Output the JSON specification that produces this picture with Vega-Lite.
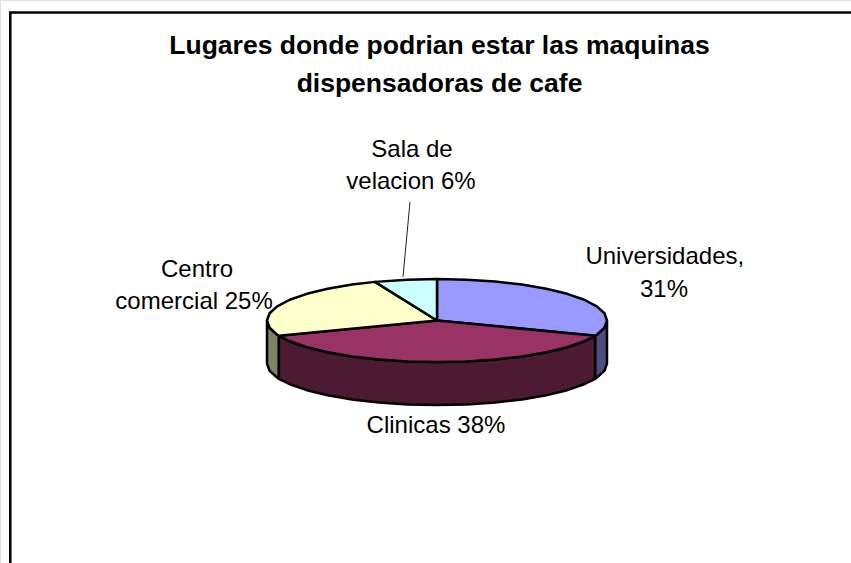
{"$schema":"https://vega.github.io/schema/vega-lite/v6.json","width":851,"height":563,"autosize":"none","padding":0,"background":"white",
"title":{"text":["Lugares donde podrian estar las maquinas","dispensadoras de cafe"],"font":"Liberation Sans","fontSize":26.5,"fontWeight":"bold","color":"black","anchor":"middle","offset":-97,"lineHeight":38,"dx":14},
"datasets":{
"frame":[{"i":0,"x":-251,"y":-584.3},{"i":1,"x":-251,"y":742},{"i":2,"x":243.5,"y":742}],
"leader":[{"i":0,"x":-15.9,"y":285.5},{"i":1,"x":-20,"y":105.1}],
"labels":[
{"slice":"Universidades","share":31,"text":"Universidades,","x":134,"y":155.4},
{"slice":"Universidades","share":31,"text":"31%","x":133.5,"y":75.9},
{"slice":"Clinicas","share":38,"text":"Clinicas 38%","x":-0.6,"y":-251.8},
{"slice":"Centro comercial","share":25,"text":"Centro","x":-141.2,"y":123},
{"slice":"Centro comercial","share":25,"text":"comercial 25%","x":-142.9,"y":47.7},
{"slice":"Sala de velacion","share":6,"text":"Sala de","x":-14.7,"y":413.3},
{"slice":"Sala de velacion","share":6,"text":"velacion 6%","x":-15.3,"y":336.1}],
"faces":[
{"part":"side Universidades","i":0,"x":100,"y":0},{"part":"side Universidades","i":1,"x":98.5,"y":-17.4},{"part":"side Universidades","i":2,"x":94,"y":-34.2},{"part":"side Universidades","i":3,"x":93,"y":-36.8},{"part":"side Universidades","i":4,"x":93,"y":-140.4},{"part":"side Universidades","i":5,"x":94,"y":-137.8},{"part":"side Universidades","i":6,"x":98.5,"y":-121},{"part":"side Universidades","i":7,"x":100,"y":-103.6},{"part":"side Universidades","i":8,"x":100,"y":0},
{"part":"side Centro","i":0,"x":-93,"y":-36.8},{"part":"side Centro","i":1,"x":-94,"y":-34.2},{"part":"side Centro","i":2,"x":-98.5,"y":-17.4},{"part":"side Centro","i":3,"x":-100,"y":0},{"part":"side Centro","i":4,"x":-100,"y":-103.6},{"part":"side Centro","i":5,"x":-98.5,"y":-121},{"part":"side Centro","i":6,"x":-94,"y":-137.8},{"part":"side Centro","i":7,"x":-93,"y":-140.4},{"part":"side Centro","i":8,"x":-93,"y":-36.8},
{"part":"side Clinicas","i":0,"x":93,"y":-36.8},{"part":"side Clinicas","i":1,"x":86.6,"y":-50},{"part":"side Clinicas","i":2,"x":76.6,"y":-64.3},{"part":"side Clinicas","i":3,"x":64.3,"y":-76.6},{"part":"side Clinicas","i":4,"x":50,"y":-86.6},{"part":"side Clinicas","i":5,"x":34.2,"y":-94},{"part":"side Clinicas","i":6,"x":17.4,"y":-98.5},{"part":"side Clinicas","i":7,"x":0,"y":-100},{"part":"side Clinicas","i":8,"x":-17.4,"y":-98.5},{"part":"side Clinicas","i":9,"x":-34.2,"y":-94},{"part":"side Clinicas","i":10,"x":-50,"y":-86.6},{"part":"side Clinicas","i":11,"x":-64.3,"y":-76.6},{"part":"side Clinicas","i":12,"x":-76.6,"y":-64.3},{"part":"side Clinicas","i":13,"x":-86.6,"y":-50},{"part":"side Clinicas","i":14,"x":-93,"y":-36.8},
{"part":"side Clinicas","i":15,"x":-93,"y":-140.4},{"part":"side Clinicas","i":16,"x":-86.6,"y":-153.6},{"part":"side Clinicas","i":17,"x":-76.6,"y":-167.9},{"part":"side Clinicas","i":18,"x":-64.3,"y":-180.2},{"part":"side Clinicas","i":19,"x":-50,"y":-190.2},{"part":"side Clinicas","i":20,"x":-34.2,"y":-197.6},{"part":"side Clinicas","i":21,"x":-17.4,"y":-202.1},{"part":"side Clinicas","i":22,"x":0,"y":-203.6},{"part":"side Clinicas","i":23,"x":17.4,"y":-202.1},{"part":"side Clinicas","i":24,"x":34.2,"y":-197.6},{"part":"side Clinicas","i":25,"x":50,"y":-190.2},{"part":"side Clinicas","i":26,"x":64.3,"y":-180.2},{"part":"side Clinicas","i":27,"x":76.6,"y":-167.9},{"part":"side Clinicas","i":28,"x":86.6,"y":-153.6},{"part":"side Clinicas","i":29,"x":93,"y":-140.4},{"part":"side Clinicas","i":30,"x":93,"y":-36.8},
{"part":"top Universidades","i":0,"x":0,"y":0},{"part":"top Universidades","i":1,"x":0,"y":100},{"part":"top Universidades","i":2,"x":17.4,"y":98.5},{"part":"top Universidades","i":3,"x":34.2,"y":94},{"part":"top Universidades","i":4,"x":50,"y":86.6},{"part":"top Universidades","i":5,"x":64.3,"y":76.6},{"part":"top Universidades","i":6,"x":76.6,"y":64.3},{"part":"top Universidades","i":7,"x":86.6,"y":50},{"part":"top Universidades","i":8,"x":94,"y":34.2},{"part":"top Universidades","i":9,"x":98.5,"y":17.4},{"part":"top Universidades","i":10,"x":100,"y":0},{"part":"top Universidades","i":11,"x":98.5,"y":-17.4},{"part":"top Universidades","i":12,"x":94,"y":-34.2},{"part":"top Universidades","i":13,"x":93,"y":-36.8},{"part":"top Universidades","i":14,"x":0,"y":0},
{"part":"top Clinicas","i":0,"x":0,"y":0},{"part":"top Clinicas","i":1,"x":93,"y":-36.8},{"part":"top Clinicas","i":2,"x":86.6,"y":-50},{"part":"top Clinicas","i":3,"x":76.6,"y":-64.3},{"part":"top Clinicas","i":4,"x":64.3,"y":-76.6},{"part":"top Clinicas","i":5,"x":50,"y":-86.6},{"part":"top Clinicas","i":6,"x":34.2,"y":-94},{"part":"top Clinicas","i":7,"x":17.4,"y":-98.5},{"part":"top Clinicas","i":8,"x":0,"y":-100},{"part":"top Clinicas","i":9,"x":-17.4,"y":-98.5},{"part":"top Clinicas","i":10,"x":-34.2,"y":-94},{"part":"top Clinicas","i":11,"x":-50,"y":-86.6},{"part":"top Clinicas","i":12,"x":-64.3,"y":-76.6},{"part":"top Clinicas","i":13,"x":-76.6,"y":-64.3},{"part":"top Clinicas","i":14,"x":-86.6,"y":-50},{"part":"top Clinicas","i":15,"x":-93,"y":-36.8},{"part":"top Clinicas","i":16,"x":0,"y":0},
{"part":"top Centro","i":0,"x":0,"y":0},{"part":"top Centro","i":1,"x":-93,"y":-36.8},{"part":"top Centro","i":2,"x":-94,"y":-34.2},{"part":"top Centro","i":3,"x":-98.5,"y":-17.4},{"part":"top Centro","i":4,"x":-100,"y":0},{"part":"top Centro","i":5,"x":-98.5,"y":17.4},{"part":"top Centro","i":6,"x":-94,"y":34.2},{"part":"top Centro","i":7,"x":-86.6,"y":50},{"part":"top Centro","i":8,"x":-76.6,"y":64.3},{"part":"top Centro","i":9,"x":-64.3,"y":76.6},{"part":"top Centro","i":10,"x":-50,"y":86.6},{"part":"top Centro","i":11,"x":-36.5,"y":93.1},{"part":"top Centro","i":12,"x":0,"y":0},
{"part":"top Sala","i":0,"x":0,"y":0},{"part":"top Sala","i":1,"x":-36.5,"y":93.1},{"part":"top Sala","i":2,"x":-17.4,"y":98.5},{"part":"top Sala","i":3,"x":0,"y":100},{"part":"top Sala","i":4,"x":0,"y":0}
]},
"encoding":{
"x":{"field":"x","type":"quantitative","axis":null,"scale":{"domain":[-257.06,243.53],"nice":false,"zero":false}},
"y":{"field":"y","type":"quantitative","axis":null,"scale":{"domain":[-584.3,772.3],"nice":false,"zero":false}}},
"layer":[
{"data":{"name":"frame"},"mark":{"type":"line","stroke":"black","strokeWidth":2.5,"strokeCap":"square"},"encoding":{"order":{"field":"i","type":"quantitative"}}},
{"data":{"name":"faces"},"mark":{"type":"line","stroke":"black","strokeWidth":2.5,"strokeJoin":"round","clip":false},"encoding":{"order":{"field":"i","type":"quantitative"},
"fill":{"field":"part","type":"nominal","legend":null,"scale":{"domain":["side Universidades","side Centro","side Clinicas","top Universidades","top Clinicas","top Centro","top Sala"],"range":["#4d4d80","#808066","#4d1a33","#9999ff","#993366","#ffffcc","#ccffff"]}}}},
{"data":{"name":"leader"},"mark":{"type":"line","stroke":"#222222","strokeWidth":1},"encoding":{"order":{"field":"i","type":"quantitative"}}},
{"data":{"name":"labels"},"mark":{"type":"text","font":"Liberation Sans","fontSize":24,"color":"black","align":"center","baseline":"middle","dy":1},"encoding":{"text":{"field":"text","type":"nominal"}}}
]}
